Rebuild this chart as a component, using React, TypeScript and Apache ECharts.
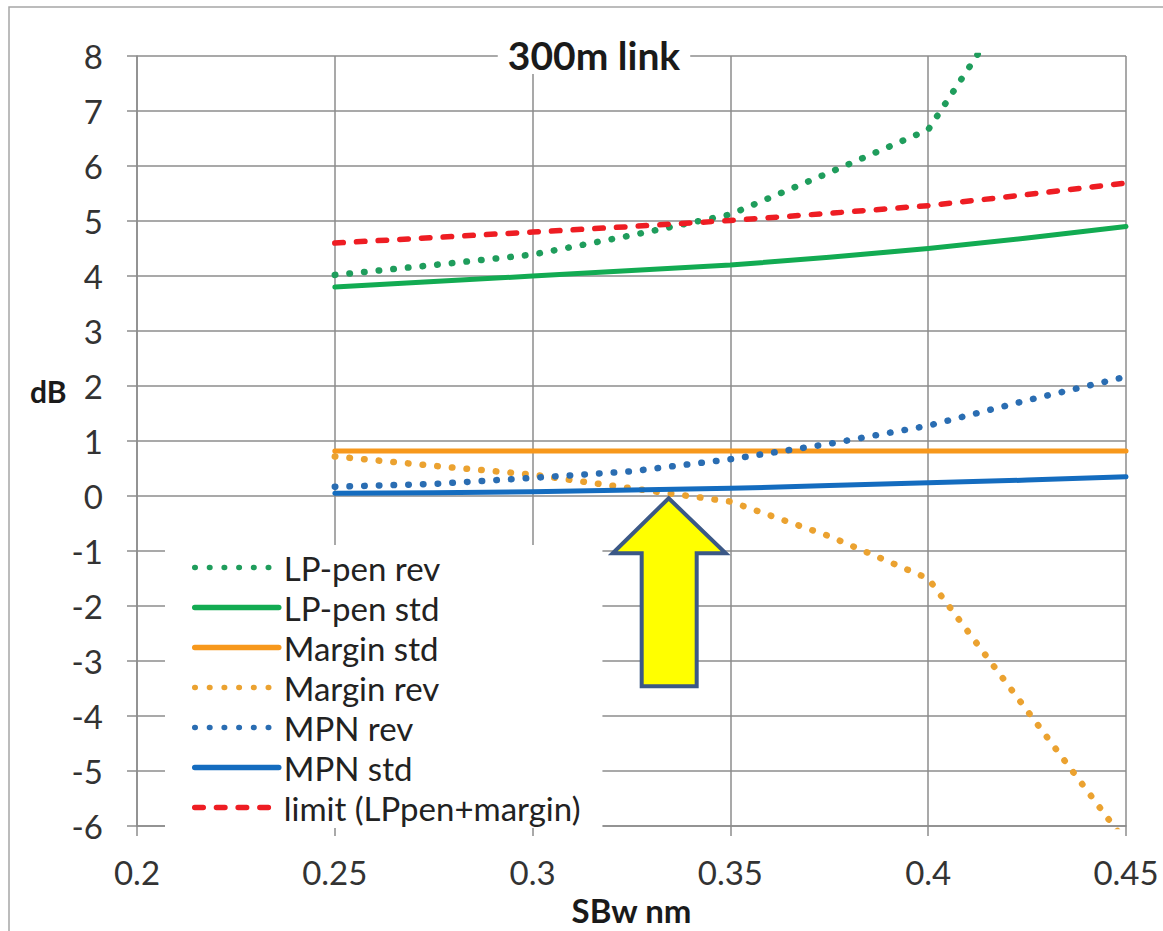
import React, { useEffect, useRef } from "react";
import * as echarts from "echarts";

// ---- data ----
const xValues = [0.25, 0.275, 0.3, 0.325, 0.35, 0.375, 0.4, 0.425, 0.45];
const lpPenRev = [4.02, 4.2, 4.39, 4.74, 5.12, 5.88, 6.66, 9.4, 12.5];
const lpPenStd = [3.8, 3.9, 4.0, 4.1, 4.2, 4.34, 4.5, 4.69, 4.9];
const marginStd = [0.82, 0.82, 0.82, 0.82, 0.82, 0.82, 0.82, 0.82, 0.82];
const marginRev = [0.72, 0.55, 0.39, 0.14, -0.1, -0.73, -1.5, -3.9, -6.3];
const mpnRev = [0.17, 0.22, 0.33, 0.45, 0.67, 0.95, 1.28, 1.74, 2.17];
const mpnStd = [0.05, 0.06, 0.08, 0.11, 0.14, 0.19, 0.24, 0.29, 0.35];
const limit = [4.6, 4.7, 4.8, 4.9, 5.01, 5.14, 5.28, 5.48, 5.69];

const seriesNames = [
  "LP-pen rev",
  "LP-pen std",
  "Margin std",
  "Margin rev",
  "MPN rev",
  "MPN std",
  "limit (LPpen+margin)",
];

const titleText = "300m link";
const yAxisTitle = "dB";
const xAxisTitle = "SBw nm";
const arrowTip = [0.3344, -0.04];

const FONT = 'Lato, "Open Sans", sans-serif';
const DOT = [0.5, 14.2];
const DASH = [8.5, 13.2];

function pairs(ys: number[]) {
  return xValues.map((x, i) => [x, ys[i]]);
}

export default function App() {
  const ref = useRef<HTMLDivElement>(null);

  useEffect(() => {
    if (!ref.current) return;
    const chart = echarts.init(ref.current, undefined, { renderer: "svg" });

    const mk = (name: string, data: number[], color: string, type: any, width: number) => ({
      name,
      type: "line",
      data: pairs(data),
      symbol: "none",
      showSymbol: false,
      smooth: false,
      clip: true,
      lineStyle: { color, width, type, cap: "round", join: "round" },
      itemStyle: { color },
      emphasis: { disabled: true },
    });

    const gridColor = "#8c8c8c";

    chart.setOption({
      animation: false,
      backgroundColor: "#ffffff",
      title: {
        text: titleText,
        left: 584,
        top: 35,
        textAlign: "center",
        backgroundColor: "#ffffff",
        padding: [0, 10, 0, 10],
        textStyle: {
          fontFamily: FONT,
          fontWeight: "bold",
          fontSize: 39,
          color: "#1a1a1a",
        },
      },
      grid: { left: 137, right: 37, top: 56, bottom: 99, containLabel: false },
      xAxis: {
        type: "value",
        min: 0.2,
        max: 0.45,
        interval: 0.05,
        name: xAxisTitle,
        nameLocation: "middle",
        nameGap: 62,
        nameTextStyle: {
          fontFamily: FONT,
          fontWeight: "bold",
          fontSize: 33,
          color: "#1a1a1a",
        },
        axisLine: { show: true, onZero: false, lineStyle: { color: gridColor, width: 1.5 } },
        axisTick: { show: true, length: 10, lineStyle: { color: gridColor, width: 1.5 } },
        splitLine: { show: true, lineStyle: { color: gridColor, width: 1.5 } },
        axisLabel: {
          margin: 29,
          fontFamily: FONT,
          fontSize: 33,
          color: "#333333",
          formatter: (v: number) => String(Math.round(v * 100) / 100),
        },
      },
      yAxis: {
        type: "value",
        min: -6,
        max: 8,
        interval: 1,
        axisLine: { show: true, lineStyle: { color: gridColor, width: 1.5 } },
        axisTick: { show: true, length: 10, lineStyle: { color: gridColor, width: 1.5 } },
        splitLine: { show: true, lineStyle: { color: gridColor, width: 1.5 } },
        axisLabel: {
          margin: 34,
          fontFamily: FONT,
          fontSize: 33,
          color: "#333333",
        },
      },
      legend: {
        orient: "vertical",
        left: 165,
        top: 545,
        padding: [6, 22, 4, 27],
        itemWidth: 84,
        itemHeight: 20,
        itemGap: 7,
        backgroundColor: "#ffffff",
        data: seriesNames,
        lineStyle: { width: 5.5 },
        itemStyle: { opacity: 0, borderWidth: 0 },
        textStyle: {
          fontFamily: FONT,
          fontSize: 33,
          color: "#222222",
        },
      },
      series: [
        mk(seriesNames[0], lpPenRev, "#1f9d5c", DOT, 6.5),
        mk(seriesNames[1], lpPenStd, "#12ab52", "solid", 5),
        mk(seriesNames[2], marginStd, "#f7981c", "solid", 5),
        mk(seriesNames[3], marginRev, "#eba230", DOT, 6.5),
        mk(seriesNames[4], mpnRev, "#2a6db2", DOT, 6.5),
        mk(seriesNames[5], mpnStd, "#146cbf", "solid", 5),
        mk(seriesNames[6], limit, "#ee1d23", DASH, 5.5),
      ],
    });

    const tip = chart.convertToPixel({ gridIndex: 0 }, arrowTip) as number[];
    const tx = tip[0];
    const ty = tip[1];
    const rel = [
      [0, 0],
      [57, 55],
      [28, 55],
      [28, 188],
      [-27, 188],
      [-27, 55],
      [-56, 55],
    ];

    chart.setOption({
      graphic: [
        {
          type: "rect",
          id: "border",
          z: -10,
          silent: true,
          shape: { x: 9, y: 7, width: 1170, height: 940 },
          style: { fill: "none", stroke: "#a6a6a6", lineWidth: 1.5 },
        },
        {
          type: "text",
          id: "ylabel",
          left: 30,
          top: 376,
          style: {
            text: yAxisTitle,
            fontFamily: FONT,
            fontWeight: "bold",
            fontSize: 30,
            fill: "#1a1a1a",
          },
        },
        {
          type: "polygon",
          id: "arrow",
          z: 100,
          silent: true,
          shape: { points: rel.map((p) => [tx + p[0], ty + p[1]]) },
          style: { fill: "#ffff00", stroke: "#3b5886", lineWidth: 4, lineJoin: "miter" },
        },
      ],
    });

    return () => chart.dispose();
  }, []);

  return (
    <div
      ref={ref}
      style={{ position: "fixed", left: 0, top: 0, width: 1163, height: 931, background: "#fff" }}
    />
  );
}
